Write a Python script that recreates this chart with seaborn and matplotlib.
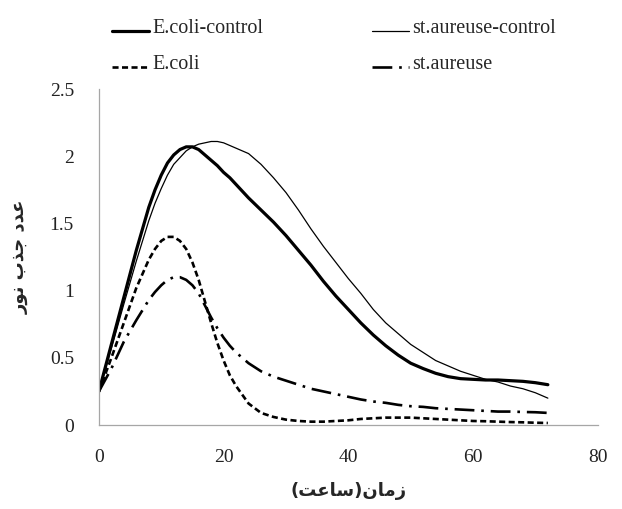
import numpy as np
import pandas as pd
import matplotlib
matplotlib.use("Agg")
import matplotlib.pyplot as plt
import seaborn as sns
from matplotlib.legend_handler import HandlerLine2D
from matplotlib.lines import Line2D

# ---------------- data ----------------
hours = [0, 2, 4, 6, 8, 9, 10, 11, 12, 13, 14, 15, 16, 17, 18, 19, 20, 21, 22,
         24, 26, 28, 30, 32, 34, 36, 38, 40, 42, 44, 46, 48, 50, 52, 54, 56,
         58, 60, 62, 64, 66, 68, 70, 72]

ecoli_control = [0.25, 0.60, 0.95, 1.30, 1.62, 1.75, 1.86, 1.95, 2.01, 2.05, 2.07,
                 2.07, 2.05, 2.01, 1.97, 1.93, 1.88, 1.84, 1.79,
                 1.69, 1.60, 1.51, 1.41, 1.30, 1.19, 1.07, 0.96, 0.86, 0.76,
                 0.67, 0.59, 0.52, 0.46, 0.42, 0.385, 0.36, 0.345, 0.34, 0.335,
                 0.335, 0.33, 0.325, 0.315, 0.30]

saureus_control = [0.25, 0.57, 0.90, 1.22, 1.52, 1.65, 1.76, 1.86, 1.94, 1.99, 2.04,
                   2.07, 2.09, 2.10, 2.11, 2.11, 2.10, 2.08, 2.06,
                   2.02, 1.94, 1.84, 1.73, 1.60, 1.46, 1.33, 1.21, 1.09, 0.98,
                   0.86, 0.76, 0.68, 0.60, 0.54, 0.48, 0.44, 0.40, 0.37, 0.34,
                   0.32, 0.29, 0.27, 0.24, 0.20]

ecoli = [0.25, 0.50, 0.76, 1.02, 1.23, 1.31, 1.37, 1.40, 1.40, 1.37, 1.31, 1.21,
         1.08, 0.92, 0.76, 0.61, 0.48, 0.37, 0.29,
         0.16, 0.09, 0.06, 0.04, 0.03, 0.025, 0.025, 0.03, 0.035, 0.045, 0.05,
         0.055, 0.055, 0.055, 0.05, 0.045, 0.04, 0.035, 0.03, 0.028, 0.025,
         0.022, 0.02, 0.017, 0.015]

saureus = [0.25, 0.42, 0.62, 0.78, 0.93, 0.99, 1.04, 1.08, 1.10, 1.10, 1.08, 1.04,
           0.98, 0.89, 0.80, 0.72, 0.65, 0.59, 0.54,
           0.46, 0.40, 0.36, 0.33, 0.30, 0.27, 0.25, 0.23, 0.21, 0.19, 0.175,
           0.165, 0.15, 0.14, 0.135, 0.125, 0.12, 0.115, 0.11, 0.105, 0.10,
           0.10, 0.097, 0.095, 0.09]

series_names = ["E.coli-control", "st.aureuse-control", "E.coli", "st.aureuse"]
x_ticks = [0, 20, 40, 60, 80]
x_tick_labels = ["0", "20", "40", "60", "80"]
y_ticks = [0, 0.5, 1, 1.5, 2, 2.5]
y_tick_labels = ["0", "0.5", "1", "1.5", "2", "2.5"]
x_label = "زمان(ساعت)"
y_label = "عدد جذب نور"

# ---------------- minimal Arabic shaping for display ----------------
DUAL = {"ع": (0xFEC9, 0xFECA, 0xFECB, 0xFECC), "ج": (0xFE9D, 0xFE9E, 0xFE9F, 0xFEA0),
        "ب": (0xFE8F, 0xFE90, 0xFE91, 0xFE92), "ن": (0xFEE5, 0xFEE6, 0xFEE7, 0xFEE8),
        "م": (0xFEE1, 0xFEE2, 0xFEE3, 0xFEE4), "س": (0xFEB1, 0xFEB2, 0xFEB3, 0xFEB4),
        "ت": (0xFE95, 0xFE96, 0xFE97, 0xFE98)}
RIGHT = {"د": (0xFEA9, 0xFEAA), "ذ": (0xFEAB, 0xFEAC), "و": (0xFEED, 0xFEEE),
         "ر": (0xFEAD, 0xFEAE), "ز": (0xFEAF, 0xFEB0), "ا": (0xFE8D, 0xFE8E)}


def shape(s):
    out = []
    is_ar = lambda c: c in DUAL or c in RIGHT
    for i, c in enumerate(s):
        if not is_ar(c):
            out.append(c)
            continue
        prev = s[i - 1] if i > 0 else None
        nxt = s[i + 1] if i + 1 < len(s) else None
        jp = prev is not None and prev in DUAL
        jn = c in DUAL and nxt is not None and is_ar(nxt)
        if c in DUAL:
            iso, fin, ini, med = DUAL[c]
            g = med if (jp and jn) else fin if jp else ini if jn else iso
        else:
            iso, fin = RIGHT[c]
            g = fin if jp else iso
        out.append(chr(g))
    vis = "".join(reversed(out))
    return vis.translate(str.maketrans("()", ")("))


# ---------------- figure ----------------
sns.set_style("white")
plt.rcParams["font.family"] = ["Liberation Serif", "DejaVu Sans"]

fig = plt.figure(figsize=(6.22, 5.09), dpi=100)
ax = fig.add_axes([0.159, 0.165, 0.802, 0.660])

df = pd.DataFrame({"hours": hours, series_names[0]: ecoli_control,
                   series_names[1]: saureus_control, series_names[2]: ecoli,
                   series_names[3]: saureus})
long = df.melt(id_vars="hours", var_name="series", value_name="od")

styles = {
    series_names[0]: dict(lw=2.3, ls="-"),
    series_names[1]: dict(lw=0.9, ls="-"),
    series_names[2]: dict(lw=1.9, ls=(0, (2.3, 1.3))),
    series_names[3]: dict(lw=1.9, ls=(0, (7.5, 2.6, 1.0, 2.6))),
}
for name in series_names:
    sub = long[long["series"] == name]
    sns.lineplot(data=sub, x="hours", y="od", ax=ax, color="black",
                 linewidth=styles[name]["lw"], linestyle=styles[name]["ls"],
                 label=name, legend=False)

ax.set_xlim(0, 80)
ax.set_ylim(0, 2.5)
ax.set_xticks(x_ticks)
ax.set_xticklabels(x_tick_labels)
ax.set_yticks(y_ticks)
ax.set_yticklabels(y_tick_labels)
for side in ["top", "right"]:
    ax.spines[side].set_visible(False)
for side in ["left", "bottom"]:
    ax.spines[side].set_color("#a6a6a6")
    ax.spines[side].set_linewidth(0.9)
ax.tick_params(axis="both", direction="out", length=6, width=0.9, color="#a6a6a6",
               labelsize=14, labelcolor="#222222")
ax.tick_params(axis="y", pad=12)
ax.tick_params(axis="x", pad=11)

ax.set_xlabel(shape(x_label), family="DejaVu Sans", fontweight="bold",
              fontsize=13, labelpad=12)
ax.set_ylabel(shape(y_label), family="DejaVu Sans", fontweight="bold",
              fontsize=13, labelpad=15)


class BaselineHandler(HandlerLine2D):
    def create_artists(self, legend, orig_handle, xdescent, ydescent, width,
                       height, fontsize, trans):
        arts = super().create_artists(legend, orig_handle, xdescent, ydescent,
                                      width, height, fontsize, trans)
        for a in arts:
            if isinstance(a, Line2D):
                a.set_ydata(np.asarray(a.get_ydata()) - 0.32 * height)
        return arts


lines = ax.get_lines()
hmap = {ln: BaselineHandler() for ln in lines}
common = dict(frameon=False, fontsize=14.5, handlelength=1.85, handletextpad=0.15,
              labelspacing=0.85, borderpad=0, borderaxespad=0, loc="upper left",
              bbox_transform=fig.transFigure, handler_map=hmap)
leg1 = ax.legend([lines[0], lines[2]], [series_names[0], series_names[2]],
                 bbox_to_anchor=(112 / 622, 1 - 19 / 509), **common)
ax.add_artist(leg1)
leg2 = ax.legend([lines[1], lines[3]], [series_names[1], series_names[3]],
                 bbox_to_anchor=(372 / 622, 1 - 19 / 509), **common)

fig.savefig("out.png", dpi=100)
